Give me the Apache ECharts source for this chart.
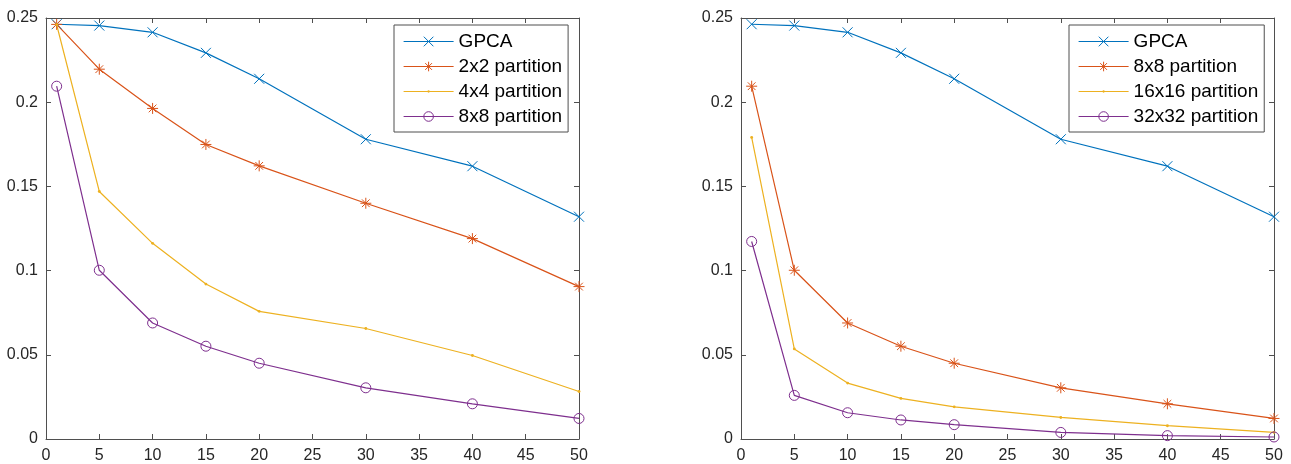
<!DOCTYPE html>
<html>
<head>
<meta charset="utf-8">
<script src="https://cdn.jsdelivr.net/npm/echarts@6/dist/echarts.min.js"></script>
<style>
  html, body { margin: 0; padding: 0; background: #fff; }
  #wrap { position: relative; width: 1291px; height: 464px; }
  #left { position: absolute; left: 0; top: 0; width: 645px; height: 464px; }
  #right { position: absolute; left: 645px; top: 0; width: 646px; height: 464px; }
</style>
</head>
<body>
<div id="wrap">
  <div id="left"></div>
  <div id="right"></div>
</div>
<script>
// Number of components kept
const xValues = [1, 5, 10, 15, 20, 30, 40, 50];

// Left panel
const gpca      = [0.2463, 0.2455, 0.2415, 0.2293, 0.2139, 0.1780, 0.1620, 0.1320];
const part2x2   = [0.2462, 0.2196, 0.1963, 0.1749, 0.1622, 0.1400, 0.1190, 0.0905];
const part4x4   = [0.2460, 0.1470, 0.1162, 0.0920, 0.0758, 0.0656, 0.0496, 0.0282];
const part8x8   = [0.2095, 0.1002, 0.0689, 0.0551, 0.0450, 0.0304, 0.0209, 0.0122];

// Right panel
const part16x16 = [0.1791, 0.0535, 0.0332, 0.0241, 0.0191, 0.0128, 0.0079, 0.0039];
const part32x32 = [0.1173, 0.0259, 0.0156, 0.0113, 0.0085, 0.0039, 0.0020, 0.0012];

const xTicks = { min: 0, max: 50, interval: 5 };
const yTicks = { min: 0, max: 0.25, interval: 0.05 };

const BLUE = '#0072BD', ORANGE = '#D95319', YELLOW = '#EDB120', PURPLE = '#7E2F8E';
const AXIS = '#4f4f4f';
const FONT = '"Liberation Sans", Arial, Helvetica, sans-serif';

const SYM = {
  cross: 'path://M0,0L10,10M10,0L0,10',
  star: 'path://M5,0L5,10M0,5L10,5M1.5,1.5L8.5,8.5M8.5,1.5L1.5,8.5',
  dot: 'path://M0,0M10,10M5,3.8A1.2,1.2,0,1,1,5,6.2A1.2,1.2,0,1,1,5,3.8Z',
  circle: 'circle'
};
const SIZE = { cross: 10, star: 11, dot: 12, circle: 10 };

function lineSeries(name, values, color, kind) {
  const filled = kind === 'dot';
  return {
    name: name,
    type: 'line',
    data: xValues.map((x, i) => [x, values[i]]),
    color: color,
    symbol: SYM[kind],
    symbolSize: SIZE[kind],
    showAllSymbol: true,
    lineStyle: { color: color, width: 1.2 },
    itemStyle: filled
      ? { color: color, borderWidth: 0 }
      : { color: 'none', borderColor: color, borderWidth: 1 },
    emphasis: { disabled: true }
  };
}

function legendItem(s) {
  const filled = s.itemStyle.borderWidth === 0;
  return {
    name: s.name,
    itemStyle: filled
      ? { color: s.color, borderWidth: 0 }
      : { color: 'none', borderColor: s.color, borderWidth: 1 },
    lineStyle: { color: s.color, width: 1.2 }
  };
}

function axisPair(kind, ticks) {
  const isX = kind === 'x';
  const base = {
    type: 'value',
    min: ticks.min, max: ticks.max, interval: ticks.interval,
    axisLine: { show: true, onZero: false, lineStyle: { color: AXIS, width: 1 } },
    axisTick: { show: true, inside: true, length: 5, lineStyle: { color: AXIS, width: 1 } },
    splitLine: { show: false }
  };
  const main = Object.assign({}, base, {
    position: isX ? 'bottom' : 'left',
    axisLabel: {
      show: true, margin: isX ? 9 : 8, color: '#262626', fontSize: 16, fontFamily: FONT,
      formatter: v => String(+(+v).toFixed(2))
    }
  });
  const mirror = Object.assign({}, base, {
    position: isX ? 'top' : 'right',
    axisLabel: { show: false }
  });
  return [main, mirror];
}

function drawPanel(el, gridLeft, legendLeft, series) {
  const chart = echarts.init(el, null, { renderer: 'canvas' });
  chart.setOption({
    animation: false,
    backgroundColor: '#fff',
    grid: { left: gridLeft, top: 18, width: 533, height: 422, containLabel: false },
    xAxis: axisPair('x', xTicks),
    yAxis: axisPair('y', yTicks),
    legend: {
      orient: 'vertical',
      left: legendLeft, top: 25,
      padding: [7, 6, 6, 9],
      itemWidth: 50, itemHeight: 12, itemGap: 6,
      backgroundColor: '#fff',
      borderColor: AXIS, borderWidth: 1, borderRadius: 0,
      textStyle: { color: '#000', fontSize: 19, fontFamily: FONT },
      data: series.map(legendItem),
      selectedMode: false
    },
    series: series
  });
}

drawPanel(document.getElementById('left'), 46, 394, [
  lineSeries('GPCA', gpca, BLUE, 'cross'),
  lineSeries('2x2 partition', part2x2, ORANGE, 'star'),
  lineSeries('4x4 partition', part4x4, YELLOW, 'dot'),
  lineSeries('8x8 partition', part8x8, PURPLE, 'circle')
]);

drawPanel(document.getElementById('right'), 96, 424, [
  lineSeries('GPCA', gpca, BLUE, 'cross'),
  lineSeries('8x8 partition', part8x8, ORANGE, 'star'),
  lineSeries('16x16 partition', part16x16, YELLOW, 'dot'),
  lineSeries('32x32 partition', part32x32, PURPLE, 'circle')
]);
</script>
</body>
</html>
